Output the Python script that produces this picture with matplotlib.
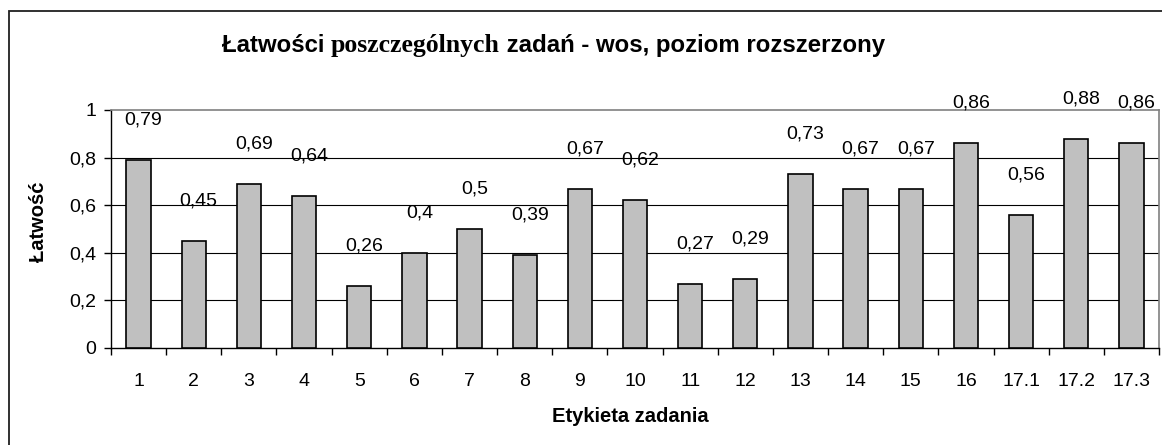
import matplotlib
matplotlib.use("Agg")
import matplotlib.pyplot as plt
from matplotlib.patches import Rectangle
import numpy as np

categories = ["1", "2", "3", "4", "5", "6", "7", "8", "9", "10", "11", "12",
              "13", "14", "15", "16", "17.1", "17.2", "17.3"]
values = [0.79, 0.45, 0.69, 0.64, 0.26, 0.4, 0.5, 0.39, 0.67, 0.62, 0.27, 0.29,
          0.73, 0.67, 0.67, 0.86, 0.56, 0.88, 0.86]
value_labels = ["0,79", "0,45", "0,69", "0,64", "0,26", "0,4", "0,5", "0,39", "0,67",
                "0,62", "0,27", "0,29", "0,73", "0,67", "0,67", "0,86", "0,56",
                "0,88", "0,86"]
yticks = [0, 0.2, 0.4, 0.6, 0.8, 1.0]
ytick_labels = ["0", "0,2", "0,4", "0,6", "0,8", "1"]
title_parts = ["Łatwości ", "poszczególnych", " zadań - wos, poziom rozszerzony"]
ylabel = "Łatwość"
xlabel = "Etykieta zadania"

plt.rcParams['font.family'] = ['Liberation Sans', 'DejaVu Sans']

W, H = 1162, 445
fig = plt.figure(figsize=(W / 100, H / 100), dpi=100)
fig.patch.set_facecolor('white')

def fx(px):
    return px / W

def fy(py):
    return 1 - py / H

left, right, top, bottom = 111, 1159, 110, 348
ax = fig.add_axes([fx(left), fy(bottom), (right - left) / W, (bottom - top) / H])

x = np.arange(len(categories))
ax.bar(x, values, width=0.44, color='#c0c0c0', edgecolor='black', linewidth=1.2, zorder=3)

ax.set_xlim(-0.5, len(categories) - 0.5)
ax.set_ylim(0, 1)

for yv in yticks[1:-1]:
    ax.axhline(yv, color='black', linewidth=0.8, zorder=1)

for s in ['top', 'right']:
    ax.spines[s].set_color('#808080')
    ax.spines[s].set_linewidth(1.2)
for s in ['left', 'bottom']:
    ax.spines[s].set_color('black')
    ax.spines[s].set_linewidth(1.0)

ax.set_yticks(yticks)
ax.set_yticklabels(ytick_labels)
ax.tick_params(axis='y', direction='out', length=5, width=1, labelsize=14, pad=5.5, colors='black')

ax.set_xticks(np.arange(-0.5, len(categories), 1.0))
ax.set_xticklabels([])
ax.tick_params(axis='x', which='major', direction='out', length=5, width=1)
ax.set_xticks(x, minor=True)
ax.set_xticklabels(categories, minor=True)
ax.tick_params(axis='x', which='minor', length=0, labelsize=14, pad=18)

for i, (v, lab) in enumerate(zip(values, value_labels)):
    ax.annotate(lab, (i, v), xytext=(3.6, 28.8), textcoords='offset points',
                ha='center', va='center', fontsize=14, zorder=4)

# Axis titles
fig.text(fx(38), fy(222), ylabel, rotation=90, ha='center', va='center',
         fontsize=14.5, fontweight='bold')
fig.text(fx(630), fy(416), xlabel, ha='center', va='center',
         fontsize=14.5, fontweight='bold')

# Chart title with mixed fonts
fig.canvas.draw()
renderer = fig.canvas.get_renderer()
xpos = 222
base = fy(52)
fams = [['Liberation Sans', 'DejaVu Sans'], ['Liberation Serif', 'DejaVu Serif'],
        ['Liberation Sans', 'DejaVu Sans']]
sizes = [17.3, 18.5, 17.3]
for part, fam, sz in zip(title_parts, fams, sizes):
    t = fig.text(fx(xpos), base, part, ha='left', va='baseline', fontsize=sz,
                 fontweight='bold', family=fam)
    bb = t.get_window_extent(renderer)
    xpos += bb.width

# Outer chart border (extends beyond the image at right and bottom)
fig.add_artist(Rectangle((fx(9), -0.2), 2.0, fy(11) + 0.2, transform=fig.transFigure,
                         fill=False, edgecolor='#202020', linewidth=1.3))

fig.savefig('out.png', dpi=100)
